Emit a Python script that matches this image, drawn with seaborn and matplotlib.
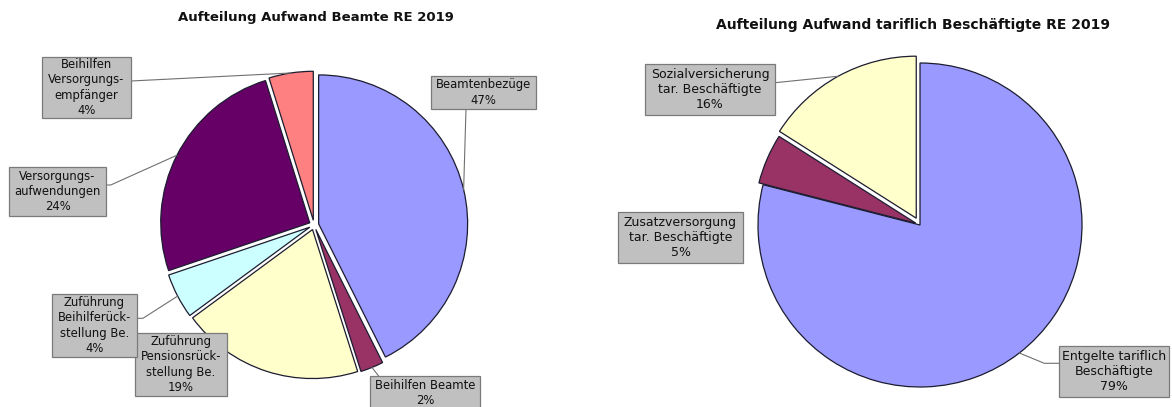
import numpy as np
import pandas as pd
import matplotlib
matplotlib.use("Agg")
import matplotlib.pyplot as plt
import seaborn as sns
from matplotlib.patches import Rectangle
from matplotlib.lines import Line2D

# ---------------- data ----------------
beamte_title = "Aufteilung Aufwand Beamte RE 2019"
beamte_categories = ["Beamtenbezüge", "Beihilfen Beamte",
                     "Zuführung\nPensionsrück-\nstellung Be.",
                     "Zuführung\nBeihilferück-\nstellung Be.",
                     "Versorgungs-\naufwendungen",
                     "Beihilfen\nVersorgungs-\nempfänger"]
beamte_shares = [42.6, 2.5, 19.8, 4.9, 25.4, 4.8]          # slice sizes as drawn
beamte_pct_labels = ["47%", "2%", "19%", "4%", "24%", "4%"]  # printed labels

tarif_title = "Aufteilung Aufwand tariflich Beschäftigte RE 2019"
tarif_categories = ["Entgelte tariflich\nBeschäftigte",
                    "Zusatzversorgung\ntar. Beschäftigte",
                    "Sozialversicherung\ntar. Beschäftigte"]
tarif_shares = [79, 5, 16]
tarif_pct_labels = ["79%", "5%", "16%"]

beamte_colors = ["#9999FF", "#993366", "#FFFFCC", "#CCFFFF", "#660066", "#FF8080"]
tarif_colors = ["#9999FF", "#993366", "#FFFFCC"]

# ---------------- style / layout ----------------
sns.set_theme(style="white")
plt.rcParams["font.family"] = ["DejaVu Sans"]

W, H = 1172, 407
fig = plt.figure(figsize=(W / 100, H / 100), dpi=100)
fig.patch.set_facecolor("white")

EDGE = "#1c1c30"
BOX_FC = "#C0C0C0"
BOX_EC = "#7a7a7a"
LINE_C = "#707070"
LIM = 1.2


def fx(x):
    return x / W


def fy(y):
    return 1 - y / H


def make_axes(cx, cy, r):
    size = 2 * LIM * r
    ax = fig.add_axes([fx(cx - size / 2), fy(cy + size / 2), size / W, size / H])
    return ax


def draw_pie(ax, shares, colors, explode, lw):
    df = pd.DataFrame({"share": shares})
    pal = sns.color_palette(colors)
    wedges, _ = ax.pie(df["share"], colors=pal, explode=explode, startangle=90,
                       counterclock=False, radius=1.0,
                       wedgeprops=dict(edgecolor=EDGE, linewidth=lw))
    ax.set_xlim(-LIM, LIM)
    ax.set_ylim(-LIM, LIM)
    ax.set_aspect("equal")
    ax.axis("off")
    ax.apply_aspect()
    return wedges


def anchor_px(ax, w):
    mid = np.deg2rad((w.theta1 + w.theta2) / 2)
    cx, cy = w.center
    p = ax.transData.transform((cx + w.r * np.cos(mid), cy + w.r * np.sin(mid)))
    return p[0], H - p[1]


def add_label(box, text, fontsize, z, textcenter=None, linespacing=1.22):
    x0, y0, x1, y1 = box
    fig.add_artist(Rectangle((fx(x0), fy(y1)), (x1 - x0) / W, (y1 - y0) / H,
                             transform=fig.transFigure, facecolor=BOX_FC,
                             edgecolor=BOX_EC, linewidth=0.9, zorder=z))
    tx, ty = textcenter if textcenter else ((x0 + x1) / 2, (y0 + y1) / 2)
    fig.text(fx(tx), fy(ty), text, ha="center", va="center", multialignment="center",
             fontsize=fontsize, linespacing=linespacing, color="#111111", zorder=z + 1)


def add_connector(ax, w, start, elbow):
    ax_, ay_ = anchor_px(ax, w)
    pts = [start] + ([elbow] if elbow else []) + [(ax_, ay_)]
    xs = [fx(p[0]) for p in pts]
    ys = [fy(p[1]) for p in pts]
    fig.add_artist(Line2D(xs, ys, transform=fig.transFigure, color=LINE_C,
                          linewidth=0.8, zorder=5))


# ---------------- left pie ----------------
axL = make_axes(314, 225, 149)
wL = draw_pie(axL, beamte_shares, beamte_colors, [0.032] * 6, 0.9)

left_boxes = [(431, 76, 536, 109), (370, 376, 480, 412), (135, 333, 227, 396),
              (52, 294, 137, 357), (9, 167, 106, 216), (42, 57, 131, 118)]
left_textcenters = [None, (425, 393), None, None, None, None]
left_conn = [((466, 109), None), ((378.6, 376), None), None,
             ((136.8, 318.3), (142.9, 318.3)), ((106, 185), (110.7, 185)),
             ((131, 81), None)]

for i, w in enumerate(wL):
    if left_conn[i]:
        add_connector(axL, w, *left_conn[i])
for i in range(len(beamte_categories)):
    add_label(left_boxes[i], beamte_categories[i] + "\n" + beamte_pct_labels[i],
              8.4, 10 + 2 * i, left_textcenters[i])

fig.text(fx(315.5), fy(20.7), beamte_title, ha="center", va="baseline",
         fontsize=9.5, fontweight="bold", color="#111111")

# ---------------- right pie ----------------
axR = make_axes(920, 225, 162)
wR = draw_pie(axR, tarif_shares, tarif_colors, [0, 0.028, 0.048], 0.9)

right_boxes = [(1059, 346, 1169, 397), (618, 212, 743, 263), (645, 64, 775, 115)]
right_conn = [((1058.7, 363.3), (1044.3, 363.3)), None, ((775.2, 82.7), None)]

for i, w in enumerate(wR):
    if right_conn[i]:
        add_connector(axR, w, *right_conn[i])
for i in range(len(tarif_categories)):
    add_label(right_boxes[i], tarif_categories[i] + "\n" + tarif_pct_labels[i],
              9.0, 30 + 2 * i)

fig.text(fx(913), fy(29.3), tarif_title, ha="center", va="baseline",
         fontsize=10.0, fontweight="bold", color="#111111")

fig.savefig("out.png", dpi=100, facecolor="white")
